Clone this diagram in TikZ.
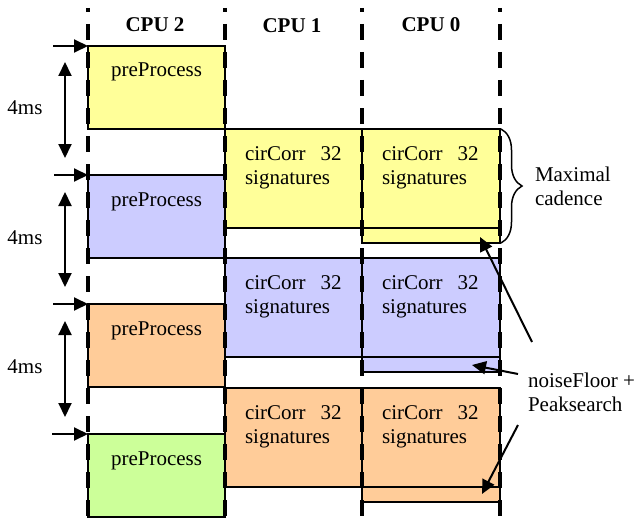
\documentclass[tikz,border=0pt]{standalone}
\usepackage{fontspec}
\setmainfont{Liberation Serif}
\usetikzlibrary{arrows.meta,decorations.pathreplacing}
\definecolor{cyel}{HTML}{FFFF99}
\definecolor{cblu}{HTML}{CCCCFF}
\definecolor{cora}{HTML}{FFCC99}
\definecolor{cgre}{HTML}{CCFF99}
\tikzset{
  box/.style={draw=black, line width=2pt, inner sep=0pt, outer sep=0pt, anchor=north west},
  pbox/.style={box, minimum width=137pt, minimum height=83pt},
  cbox/.style={box, minimum width=137pt, minimum height=99pt},
  sbox/.style={box, minimum width=138pt, minimum height=15pt},
  txt/.style={font=\fontsize{21}{24}\selectfont, inner sep=0pt, outer sep=0pt},
  cpu/.style={txt, font=\fontsize{21}{24}\selectfont\bfseries, anchor=base},
  arr/.style={line width=2pt, -{Triangle[length=14pt,width=13pt]}},
  darr/.style={line width=2pt, {Triangle[length=14pt,width=13pt]}-{Triangle[length=14pt,width=13pt]}},
  vdash/.style={line width=4pt, dash pattern=on 16pt off 12pt, dash phase=12pt},
}
\begin{document}
\begin{tikzpicture}[x=1pt,y=-1pt]
\useasboundingbox (0,0) rectangle (640,519);
% CPU 2 preProcess boxes
\node[pbox, fill=cyel] (p1) at (88,46) {};
\node[pbox, fill=cblu] (p2) at (88,175) {};
\node[pbox, fill=cora] (p3) at (88,304) {};
\node[pbox, fill=cgre] (p4) at (88,434) {};
% CPU 1 cirCorr boxes
\node[cbox, fill=cyel] (c1a) at (225,129) {};
\node[cbox, fill=cblu] (c2a) at (225,258) {};
\node[cbox, fill=cora] (c3a) at (225,388) {};
% CPU 0 cirCorr boxes + noise floor strips
\node[sbox, fill=cyel] (s1) at (362,228) {};
\node[sbox, fill=cblu] (s2) at (362,357) {};
\node[sbox, fill=cora] (s3) at (362,487) {};
\node[cbox, minimum width=138pt, fill=cyel] (c1b) at (362,129) {};
\node[cbox, minimum width=138pt, fill=cblu] (c2b) at (362,258) {};
\node[cbox, minimum width=138pt, fill=cora] (c3b) at (362,388) {};
% texts
\node[txt, anchor=base] (tp1) at (156.5,77) {preProcess};
\node[txt, anchor=base] (tp2) at (156.5,206) {preProcess};
\node[txt, anchor=base] (tp3) at (156.5,335) {preProcess};
\node[txt, anchor=base] (tp4) at (156.5,465) {preProcess};
\node[txt, anchor=base west, align=left] (tc1a) at (245,184) {cirCorr\hspace{15pt}32\\signatures};
\node[txt, anchor=base west, align=left] (tc2a) at (245,313) {cirCorr\hspace{15pt}32\\signatures};
\node[txt, anchor=base west, align=left] (tc3a) at (245,443) {cirCorr\hspace{15pt}32\\signatures};
\node[txt, anchor=base west, align=left] (tc1b) at (382,184) {cirCorr\hspace{15pt}32\\signatures};
\node[txt, anchor=base west, align=left] (tc2b) at (382,313) {cirCorr\hspace{15pt}32\\signatures};
\node[txt, anchor=base west, align=left] (tc3b) at (382,443) {cirCorr\hspace{15pt}32\\signatures};
% CPU headers
\node[cpu] (h2) at (155,32) {CPU 2};
\node[cpu] (h1) at (292,33) {CPU 1};
\node[cpu] (h0) at (431,32) {CPU 0};
% dashed CPU separators
\foreach \i/\x in {0/88,1/225,2/362,3/500}{
  \coordinate (vt\i) at (\x,8);
  \coordinate (vb\i) at (\x,519);
  \draw[vdash] (vt\i) -- (vb\i);
}
% start arrows
\coordinate (a1) at (53,46);
\coordinate (a2) at (54,175);
\coordinate (a3) at (53,304);
\coordinate (a4) at (52,434);
\draw[arr] (a1) -- (p1.north west);
\draw[arr] (a2) -- (p2.north west);
\draw[arr] (a3) -- (p3.north west);
\draw[arr] (a4) -- (p4.north west);
% 4ms arrows
\coordinate (d1t) at (65,62);  \coordinate (d1b) at (65,158);
\coordinate (d2t) at (65,192); \coordinate (d2b) at (65,287);
\coordinate (d3t) at (65,321); \coordinate (d3b) at (65,417);
\draw[darr] (d1t) -- (d1b);
\draw[darr] (d2t) -- (d2b);
\draw[darr] (d3t) -- (d3b);
\node[txt, anchor=base] (m1) at (25,114) {4ms};
\node[txt, anchor=base] (m2) at (25,244) {4ms};
\node[txt, anchor=base] (m3) at (25,373) {4ms};
% brace
\coordinate (bt) at (501,129);
\coordinate (bb) at (501,243);
\draw[line width=1.5pt, decorate, decoration={brace, amplitude=21pt, aspect=0.5}] (bt) -- (bb);
\node[txt, anchor=base west, align=left] (mc) at (535,205) {Maximal\\cadence};
% noise floor label and arrows
\node[txt, anchor=base west, align=left] (nf) at (528,411) {noiseFloor +\\Peaksearch};
\coordinate (n1) at (532,342);
\coordinate (n2) at (518,374);
\coordinate (n3) at (518,425);
\coordinate (e1) at (480,237);
\coordinate (e2) at (472,365);
\coordinate (e3) at (482,494);
\draw[arr] (n1) -- (e1);
\draw[arr] (n2) -- (e2);
\draw[arr] (n3) -- (e3);
\end{tikzpicture}
\end{document}
